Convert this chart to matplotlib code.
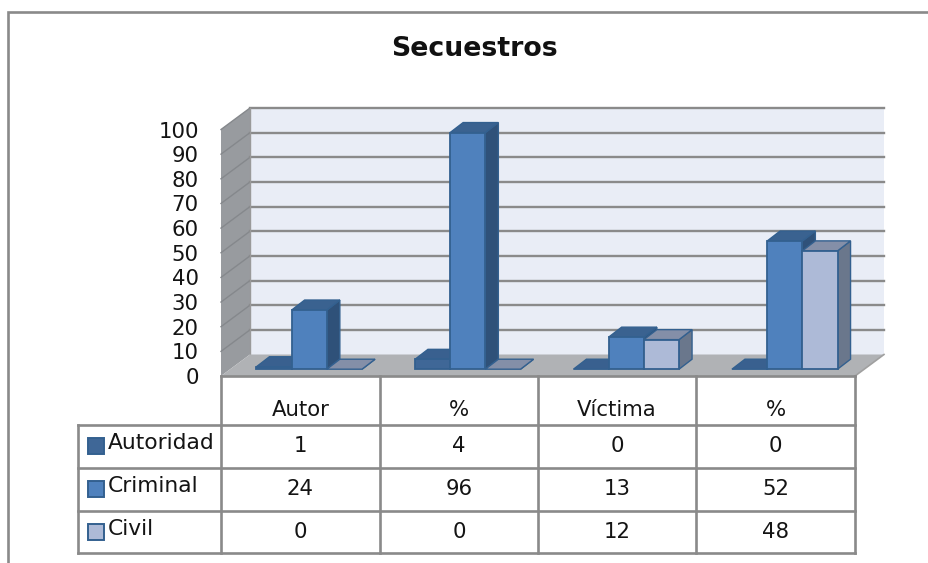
"""
Secuestros - 3D look column chart with data table
"""
import matplotlib
matplotlib.use("Agg")
import matplotlib.pyplot as plt
from matplotlib.patches import Rectangle

categories = ["Autor", "%", "Víctima", "%"]
series_names = ["Autoridad", "Criminal", "Civil"]
autoridad = [1, 4, 0, 0]
criminal = [24, 96, 13, 52]
civil = [0, 0, 12, 48]
series_values = [autoridad, criminal, civil]
y_ticks = [0, 10, 20, 30, 40, 50, 60, 70, 80, 90, 100]

front_cols = ["#3f6797", "#4f81bd", "#adbad7"]
top_cols = ["#39608f", "#3a6290", "#848fa8"]
side_cols = ["#2e5078", "#2f5179", "#6a778c"]
edge_col = "#33608f"
line_col = "#8a8a8a"
text_col = "#141414"

W, H = 929, 563
x0, x1, y0, y1 = 221, 855, 376, 129.5
xu = (x1 - x0) / 4.0
yu = (y0 - y1) / 100.0

# depth of the box and of the columns, in data units
wall_dx = 29 / xu
wall_dy = 21.5 / yu
bar_dx = 13 / xu
bar_dy = 10 / yu
bar_w = 35.2 / xu
shift_x = 9 / xu
shift_y = 6.8 / yu

fig = plt.figure(figsize=(W / 100, H / 100), dpi=100)
plt.rcParams["font.family"] = "DejaVu Sans"

# page layer, works in pixels
page = fig.add_axes([0, 0, 1, 1], zorder=0)
page.set_xlim(0, W)
page.set_ylim(H, 0)
page.axis("off")
page.plot([8.5, 8.5, W], [H, 11.5, 11.5], color=line_col, lw=1.9, solid_joinstyle="miter")
page.text(474.5, 49, "Secuestros", ha="center", va="center", fontsize=19.3,
          fontweight="bold", color="#111111")

# chart layer
ax = fig.add_axes([x0 / W, (H - y0) / H, (x1 - x0) / W, (y0 - y1) / H], zorder=1)
ax.set_xlim(0, 4)
ax.set_ylim(0, 100)
ax.patch.set_alpha(0)
for s in ax.spines.values():
    s.set_visible(False)
ax.set_xticks([])
ax.set_yticks(y_ticks)
ax.set_yticklabels([str(v) for v in y_ticks], fontsize=15.3, color=text_col)
ax.tick_params(axis="y", length=0, pad=16)

# walls and floor
ax.fill([wall_dx, 4 + wall_dx, 4 + wall_dx, wall_dx],
        [wall_dy, wall_dy, 100 + wall_dy, 100 + wall_dy],
        color="#e9edf6", lw=0, clip_on=False, zorder=1)
ax.fill([0, wall_dx, wall_dx, 0], [0, wall_dy, 100 + wall_dy, 100],
        color="#989b9f", lw=0, clip_on=False, zorder=1)
ax.fill([0, 4, 4 + wall_dx, wall_dx], [0, 0, wall_dy, wall_dy],
        color="#b0b2b5", lw=0, clip_on=False, zorder=2)
for v in y_ticks[1:]:
    ax.plot([wall_dx, 4 + wall_dx], [v + wall_dy, v + wall_dy], color=line_col, lw=1.7,
            clip_on=False, zorder=1.5)
    ax.plot([0, wall_dx], [v, v + wall_dy], color="#85888c", lw=1.0,
            clip_on=False, zorder=1.5)
ax.plot([wall_dx, wall_dx], [wall_dy, 100 + wall_dy], color="#9a9a9a", lw=1.0,
        clip_on=False, zorder=1.5)
ax.plot([4, 4 + wall_dx], [0, wall_dy], color="#a0a0a0", lw=1.2, clip_on=False, zorder=2)

# columns, left to right so the next one covers the side of the last
z = 3
for c in range(len(categories)):
    for s in range(len(series_names)):
        val = series_values[s][c]
        left = c + 0.5 + shift_x + (s - 1.5) * bar_w
        right = left + bar_w
        top = val + shift_y
        ax.fill([right, right + bar_dx, right + bar_dx, right],
                [shift_y, shift_y + bar_dy, top + bar_dy, top],
                facecolor=side_cols[s], edgecolor=edge_col, lw=1.0, clip_on=False, zorder=z)
        ax.fill([left, right, right + bar_dx, left + bar_dx],
                [top, top, top + bar_dy, top + bar_dy],
                facecolor=top_cols[s], edgecolor=edge_col, lw=1.0, clip_on=False, zorder=z)
        if val > 0:
            ax.bar(left, val, bar_w, bottom=shift_y, align="edge", color=front_cols[s],
                   edgecolor=edge_col, lw=1.3, clip_on=False, zorder=z + 0.5)
        z += 1

# data table on top, in pixels
tab = fig.add_axes([0, 0, 1, 1], zorder=2)
tab.set_xlim(0, W)
tab.set_ylim(H, 0)
tab.axis("off")
col_x = [221, 380, 538, 696, 855]
row_y = [376, 425, 467.5, 511, 553]
tab.plot([x0, x1], [row_y[0], row_y[0]], color=line_col, lw=1.9)
for x in col_x:
    tab.plot([x, x], [row_y[0], row_y[-1]], color=line_col, lw=1.9)
tab.plot([78, 78], [row_y[1], row_y[-1]], color=line_col, lw=1.9)
for y in row_y[1:]:
    tab.plot([78, x1], [y, y], color=line_col, lw=1.9)

for c in range(len(categories)):
    xc = (col_x[c] + col_x[c + 1]) / 2
    tab.text(xc, 410, categories[c], ha="center", va="center", fontsize=15.3, color=text_col)
    for s in range(len(series_names)):
        tab.text(xc, (row_y[s + 1] + row_y[s + 2]) / 2, str(series_values[s][c]),
                 ha="center", va="center", fontsize=15.3, color=text_col)

for s in range(len(series_names)):
    ym = (row_y[s + 1] + row_y[s + 2]) / 2
    tab.add_patch(Rectangle((88, ym - 8.5), 16, 16, facecolor=front_cols[s],
                            edgecolor=edge_col, lw=1.4))
    tab.text(108, ym - 3, series_names[s], ha="left", va="center", fontsize=15.7, color=text_col)

plt.savefig("out.png", dpi=100)
